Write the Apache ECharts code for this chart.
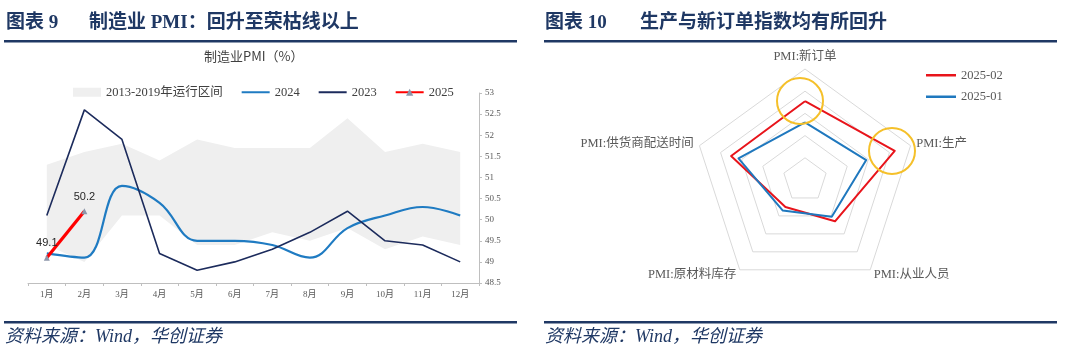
<!DOCTYPE html>
<html><head><meta charset="utf-8">
<script src="https://cdn.jsdelivr.net/npm/echarts@6/dist/echarts.min.js"></script>
<style>html,body{margin:0;padding:0;background:#fff}#c{width:1080px;height:361px}</style>
</head><body><div id="c"></div>
<script>
// ---------- data ----------
const months = ['1月','2月','3月','4月','5月','6月','7月','8月','9月','10月','11月','12月'];
const bandLow2013_2019  = [49.4,49.0,50.1,50.1,49.4,49.4,49.7,49.5,49.8,49.3,49.6,49.4];
const bandHigh2013_2019 = [51.3,51.6,51.8,51.4,51.9,51.7,51.7,51.7,52.4,51.6,51.8,51.6];
const pmi2024 = [49.2,49.1,50.8,50.4,49.5,49.5,49.4,49.1,49.8,50.1,50.3,50.1];
const pmi2023 = [50.1,52.6,51.9,49.2,48.8,49.0,49.3,49.7,50.2,49.5,49.4,49.0];
const pmi2025 = [49.1,50.2];
const yMin = 48.5, yMax = 53, yStep = 0.5;

// radar (listed counter-clockwise from the top, as ECharts lays them out)
const radarNames = ['PMI:新订单','PMI:供货商配送时间','PMI:原材料库存','PMI:从业人员','PMI:生产'];
const radar202502 = [51.1,51.0,47.0,48.6,52.5];
const radar202501 = [49.2,50.3,47.4,48.1,49.8];
const radarMin = 44, radarMax = 54;

// ---------- style ----------
const NAVY = '#1F3864';
const SERIF = '"Liberation Serif","Noto Sans CJK SC",serif';
const CJK = '"Liberation Serif","Noto Sans CJK SC",sans-serif';
const bandRange = bandHigh2013_2019.map((h,i)=>+(h-bandLow2013_2019[i]).toFixed(2));

const chart = echarts.init(document.getElementById('c'), null, {renderer:'canvas'});
function header(x, num, x2, text){
  return [
    {type:'text', left:x, top:14, style:{text:'图表 '+num, font:'bold 19px '+CJK, fill:NAVY}},
    {type:'text', left:x2, top:14, style:{text:text, font:'bold 19px '+CJK, fill:NAVY}}
  ];
}
const graphics = [].concat(
  header(6,'9',89,'制造业 PMI：回升至荣枯线以上'),
  header(545,'10',640,'生产与新订单指数均有所回升'),
  [
    {type:'rect', shape:{x:4,y:40,width:513,height:2.5}, style:{fill:NAVY}},
    {type:'rect', shape:{x:544,y:40,width:513,height:2.5}, style:{fill:NAVY}},
    {type:'rect', shape:{x:4,y:321,width:513,height:2.5}, style:{fill:NAVY}},
    {type:'rect', shape:{x:544,y:321,width:513,height:2.5}, style:{fill:NAVY}},
    {type:'text', left:5, top:328, style:{text:'资料来源：Wind，华创证券', font:'italic 18px '+CJK, fill:NAVY}},
    {type:'text', left:545, top:328, style:{text:'资料来源：Wind，华创证券', font:'italic 18px '+CJK, fill:NAVY}},
    {type:'text', left:204, top:50, style:{text:'制造业PMI（%）', font:'13px "Noto Sans CJK SC",sans-serif', fill:'#404040'}},
    {type:'circle', shape:{cx:800,cy:101,r:23}, style:{fill:'none', stroke:'#F5C02A', lineWidth:2}, z:100},
    {type:'circle', shape:{cx:892,cy:151,r:23}, style:{fill:'none', stroke:'#F5C02A', lineWidth:2}, z:100}
  ]
);

const option = {
  animation:false,
  graphic: graphics,
  legend: [
    {
      left:68, top:81, itemWidth:28, itemHeight:9, itemGap:18,
      textStyle:{fontFamily:SERIF, fontSize:12.5, color:'#404040'},
      data:[
        {name:'2013-2019年运行区间', icon:'rect', itemStyle:{color:'#EFEFEF'}},
        {name:'2024', itemStyle:{opacity:0}},
        {name:'2023', itemStyle:{opacity:0}},
        {name:'2025'}
      ]
    },
    {
      left:921, top:64, orient:'vertical', itemWidth:30, itemHeight:2.5, itemGap:9, icon:'rect',
      textStyle:{fontFamily:SERIF, fontSize:12.5, color:'#595959'},
      data:['2025-02','2025-01']
    }
  ],
  grid:{left:28, right:601, top:93, bottom:78},
  xAxis:{
    type:'category', data:months, boundaryGap:true,
    axisLine:{lineStyle:{color:'#BFBFBF'}},
    axisTick:{show:true, length:3, lineStyle:{color:'#BFBFBF'}},
    axisLabel:{fontFamily:SERIF, fontSize:9, color:'#595959', margin:7}
  },
  yAxis:{
    type:'value', position:'right', min:yMin, max:yMax, interval:yStep,
    axisLine:{show:true, lineStyle:{color:'#BFBFBF'}},
    axisTick:{show:true, length:3, inside:false, lineStyle:{color:'#BFBFBF'}},
    splitLine:{show:false},
    axisLabel:{fontFamily:SERIF, fontSize:9, color:'#595959', margin:6}
  },
  radar:{
    center:[805,180], radius:111, startAngle:90, splitNumber:5, shape:'polygon',
    indicator: radarNames.map(n=>({name:n, min:radarMin, max:radarMax})),
    axisName:{fontFamily:SERIF, fontSize:12.5, color:'#595959'},
    nameGap:6,
    axisLine:{show:false},
    splitLine:{lineStyle:{color:'#D9D9D9', width:1}},
    splitArea:{show:false}
  },
  series:[
    {name:'band-base', type:'line', stack:'band', data:bandLow2013_2019, symbol:'none',
     lineStyle:{opacity:0}, silent:true, z:1},
    {name:'2013-2019年运行区间', type:'line', stack:'band', data:bandRange, symbol:'none',
     lineStyle:{opacity:0}, areaStyle:{color:'#EFEFEF', opacity:1}, itemStyle:{color:'#EFEFEF'}, silent:true, z:1},
    {name:'2024', type:'line', data:pmi2024, smooth:0.4, symbol:'none',
     lineStyle:{color:'#1F7BC2', width:2.2}, itemStyle:{color:'#1F7BC2'}, z:3},
    {name:'2023', type:'line', data:pmi2023, symbol:'none',
     lineStyle:{color:'#1C2B5C', width:1.6}, itemStyle:{color:'#1C2B5C'}, z:4},
    {name:'2025', type:'line', data:pmi2025, symbol:'triangle', symbolSize:6, showSymbol:true,
     lineStyle:{color:'#FF0000', width:3.2}, itemStyle:{color:'#8C96AA'},
     label:{show:true, position:'top', distance:6, fontFamily:'"Liberation Sans",Arial,sans-serif', fontSize:11, color:'#262626'},
     z:5},
    {type:'radar', symbol:'none',
     data:[
       {name:'2025-02', value:radar202502, lineStyle:{color:'#E8141B', width:2}, itemStyle:{color:'#E8141B'}},
       {name:'2025-01', value:radar202501, lineStyle:{color:'#1F78BE', width:2}, itemStyle:{color:'#1F78BE'}}
     ]}
  ]
};
chart.setOption(option);
</script>
</body></html>
